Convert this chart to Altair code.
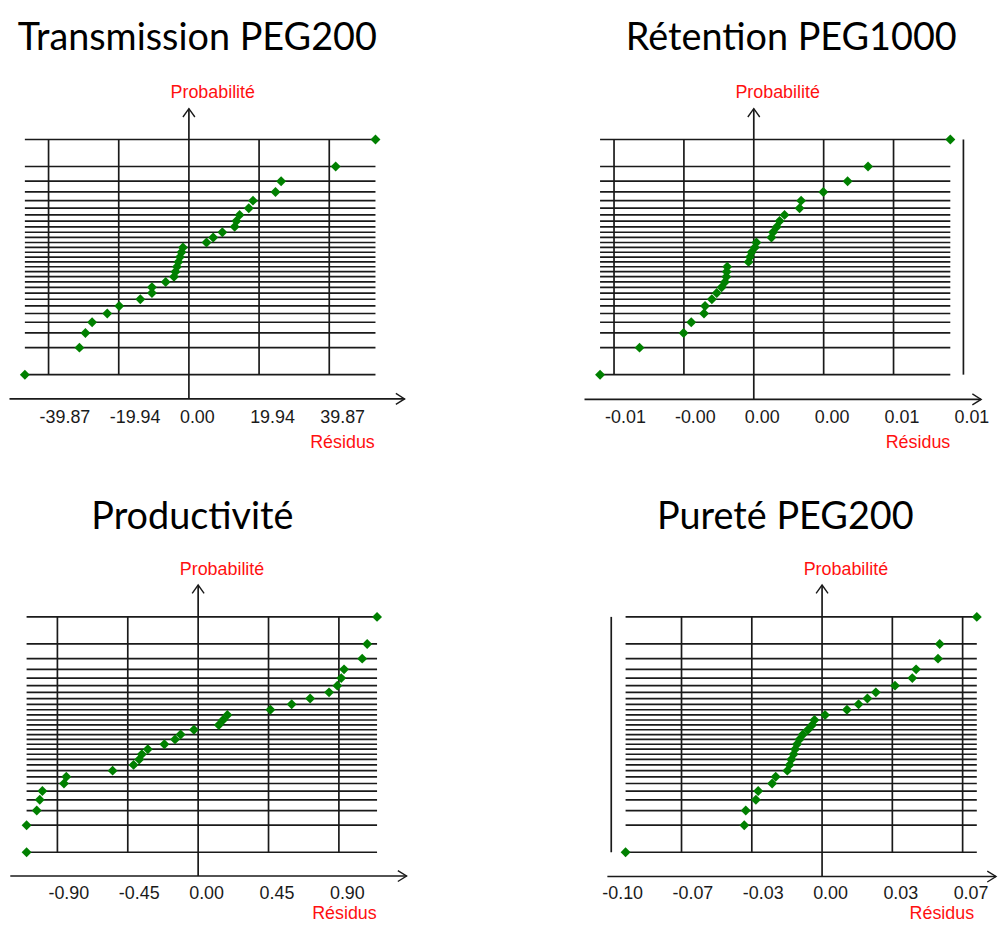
import altair as alt
import pandas as pd
from statistics import NormalDist

# ---------------- data ----------------
titles = ["Transmission PEG200", "Rétention PEG1000", "Productivité", "Pureté PEG200"]
y_label = "Probabilité"
x_label = "Résidus"

res_transmission = [-46.6, -31.1, -29.4, -27.5, -23.2, -19.8, -13.8, -10.5, -10.5, -6.6,
                    -4.24, -3.81, -3.39, -2.97, -2.54, -2.12, -1.69, 5.0, 6.9, 9.5,
                    13.0, 13.5, 14.4, 17.0, 18.2, 24.6, 26.2, 41.7, 53.0]
res_retention = [-0.00880, -0.00654, -0.00402, -0.00358, -0.00285, -0.00279, -0.00240,
                 -0.00212, -0.00184, -0.00165, -0.00157, -0.00155, -0.00152, -0.00030,
                 -0.00022, -0.00013, 0.00006, 0.00015, 0.00101, 0.00110, 0.00132,
                 0.00148, 0.00176, 0.00262, 0.00271, 0.00398, 0.00537, 0.00654, 0.01125]
res_productivite = [-1.097, -1.097, -1.032, -1.013, -0.996, -0.858, -0.843, -0.547, -0.413,
                    -0.377, -0.360, -0.322, -0.216, -0.148, -0.112, -0.027, 0.132, 0.159,
                    0.187, 0.462, 0.598, 0.716, 0.837, 0.890, 0.915, 0.933, 1.049, 1.081, 1.144]
res_purete = [-0.0932, -0.0369, -0.0362, -0.0314, -0.0303, -0.0237, -0.0220, -0.0165, -0.0154,
              -0.0146, -0.0135, -0.0128, -0.0119, -0.0107, -0.0091, -0.0067, -0.0047, -0.0036,
              0.0014, 0.0118, 0.0173, 0.0215, 0.0255, 0.0346, 0.0428, 0.0446, 0.0550, 0.0558, 0.0734]

ticks_transmission = [-39.87, -19.935, 0.0, 19.935, 39.87]
labels_transmission = ["-39.87", "-19.94", "0.00", "19.94", "39.87"]
ticks_retention = [-0.008, -0.004, 0.0, 0.004, 0.008, 0.012]
labels_retention = ["-0.01", "-0.00", "0.00", "0.00", "0.01", "0.01"]
ticks_productivite = [-0.90, -0.45, 0.0, 0.45, 0.90]
labels_productivite = ["-0.90", "-0.45", "0.00", "0.45", "0.90"]
ticks_purete = [-0.1, -0.06667, -0.03333, 0.0, 0.03333, 0.06667]
labels_purete = ["-0.10", "-0.07", "-0.03", "0.00", "0.03", "0.07"]

# ---------------- styling / layout ----------------
INK = "#1a1a1a"
RED = "#ff1010"
GREEN = "#008000"
TICK_FONT = "Liberation Sans"
TITLE_FONT = "Lato"
LW = 1.7

geom = [
    dict(frame=(8, 8, 492, 464), x0=189.0, k=3.5415, yc=255.8, kz=55.95, ytip=106.5,
         xaxis_y=398.5, xaxis_l=8.5, xtip=406.0, lab_y=417.5, prob_y=91.0,
         res_x=376.0, res_y=443.0, title=(197.5, 47.0)),
    dict(frame=(500, 8, 503, 464), x0=757.3, k=17575.0, yc=255.8, kz=55.95, ytip=106.5,
         xaxis_y=399.0, xaxis_l=587.0, xtip=986.0, lab_y=417.5, prob_y=91.0,
         res_x=955.0, res_y=443.0, title=(795.0, 47.0)),
    dict(frame=(8, 472, 492, 454), x0=198.3, k=157.33, yc=736.2, kz=56.0, ytip=585.7,
         xaxis_y=878.5, xaxis_l=9.3, xtip=408.0, lab_y=897.0, prob_y=571.0,
         res_x=378.0, res_y=917.0, title=(192.5, 529.0)),
    dict(frame=(500, 472, 503, 454), x0=826.0, k=2121.0, yc=736.2, kz=56.0, ytip=585.7,
         xaxis_y=879.0, xaxis_l=610.0, xtip=1001.0, lab_y=897.0, prob_y=571.0,
         res_x=979.0, res_y=917.0, title=(789.0, 529.0)),
]


def panel(title, res, ticks, labels, g):
    ox, oy, W, H = g["frame"]
    x0, k, yc, kz = g["x0"], g["k"], g["yc"], g["kz"]
    xs = alt.Scale(domain=[(ox - x0) / k, (ox + W - x0) / k], zero=False, nice=False)
    ys = alt.Scale(domain=[(yc - oy - H) / kz, (yc - oy) / kz], zero=False, nice=False)
    lx = lambda px: px - ox
    ly = lambda py: py - oy

    n = len(res)
    nd = NormalDist()
    srt = sorted(res)
    z = [nd.inv_cdf((i + 0.5) / n) for i in range(n)]  # normal scores (Hazen positions)
    pts = pd.DataFrame({"res": srt, "z": z, "lo": min(res), "hi": max(res)})
    tk = pd.DataFrame({"t": ticks, "lab": labels, "z0": z[0], "z1": z[-1]})
    grid = tk[tk["t"] != 0]
    one = pd.DataFrame({"title": [title], "ylab": [y_label], "xlab": [x_label], "zero": [0.0]})

    def X(f):
        return alt.X(f, scale=xs, axis=None)

    def Y(f):
        return alt.Y(f, scale=ys, axis=None)

    hl = alt.Chart(pts).mark_rule(color=INK, strokeWidth=LW).encode(
        x=X("lo:Q"), x2="hi:Q", y=Y("z:Q"))
    vg = alt.Chart(grid).mark_rule(color=INK, strokeWidth=LW).encode(
        x=X("t:Q"), y=Y("z0:Q"), y2="z1:Q")
    yax = alt.Chart(one).mark_rule(color=INK, strokeWidth=LW).encode(
        x=X("zero:Q"), y=alt.value(ly(g["ytip"])), y2=alt.value(ly(g["xaxis_y"])))
    xax = alt.Chart(one).mark_rule(color=INK, strokeWidth=LW).encode(
        x=alt.value(lx(g["xaxis_l"])), x2=alt.value(lx(g["xtip"])), y=alt.value(ly(g["xaxis_y"])))
    up = alt.Chart(one).mark_point(shape="M-1,0.7L0,-0.7L1,0.7", filled=False, size=144,
                                   stroke=INK, strokeWidth=1.4, opacity=1).encode(
        x=X("zero:Q"), y=alt.value(ly(g["ytip"]) + 4.2))
    right = alt.Chart(one).mark_point(shape="M-0.8,-1L0.8,0L-0.8,1", filled=False, size=121,
                                      stroke=INK, strokeWidth=1.4, opacity=1).encode(
        x=alt.value(lx(g["xtip"]) - 4.4), y=alt.value(ly(g["xaxis_y"])))
    dots = alt.Chart(pts).mark_point(shape="diamond", filled=True, color=GREEN, size=100,
                                     opacity=1).encode(x=X("res:Q"), y=Y("z:Q"))
    tlab = alt.Chart(tk).mark_text(align="left", baseline="middle", dx=-9, font=TICK_FONT,
                                   fontSize=18, color=INK).encode(
        x=X("t:Q"), y=alt.value(ly(g["lab_y"])), text="lab:N")
    prob = alt.Chart(one).mark_text(align="center", baseline="middle", dx=24, font=TICK_FONT,
                                    fontSize=18, color=RED).encode(
        x=X("zero:Q"), y=alt.value(ly(g["prob_y"])), text="ylab:N")
    resl = alt.Chart(one).mark_text(align="right", baseline="middle", font=TICK_FONT,
                                    fontSize=18, color=RED).encode(
        x=alt.value(lx(g["res_x"])), y=alt.value(ly(g["res_y"])), text="xlab:N")
    ttl = alt.Chart(one).mark_text(align="center", baseline="alphabetic", font=TITLE_FONT,
                                   fontSize=38, color="#000000").encode(
        x=alt.value(lx(g["title"][0])), y=alt.value(ly(g["title"][1])), text="title:N")

    return alt.layer(hl, vg, yax, xax, up, right, dots, tlab, prob, resl, ttl).properties(
        width=W, height=H)


p1 = panel(titles[0], res_transmission, ticks_transmission, labels_transmission, geom[0])
p2 = panel(titles[1], res_retention, ticks_retention, labels_retention, geom[1])
p3 = panel(titles[2], res_productivite, ticks_productivite, labels_productivite, geom[2])
p4 = panel(titles[3], res_purete, ticks_purete, labels_purete, geom[3])

chart = alt.vconcat(
    alt.hconcat(p1, p2, spacing=0),
    alt.hconcat(p3, p4, spacing=0),
    spacing=0,
).properties(padding=0, background="white").configure_view(stroke=None)

chart.save("out.html", embed_options={"renderer": "svg", "actions": False})
